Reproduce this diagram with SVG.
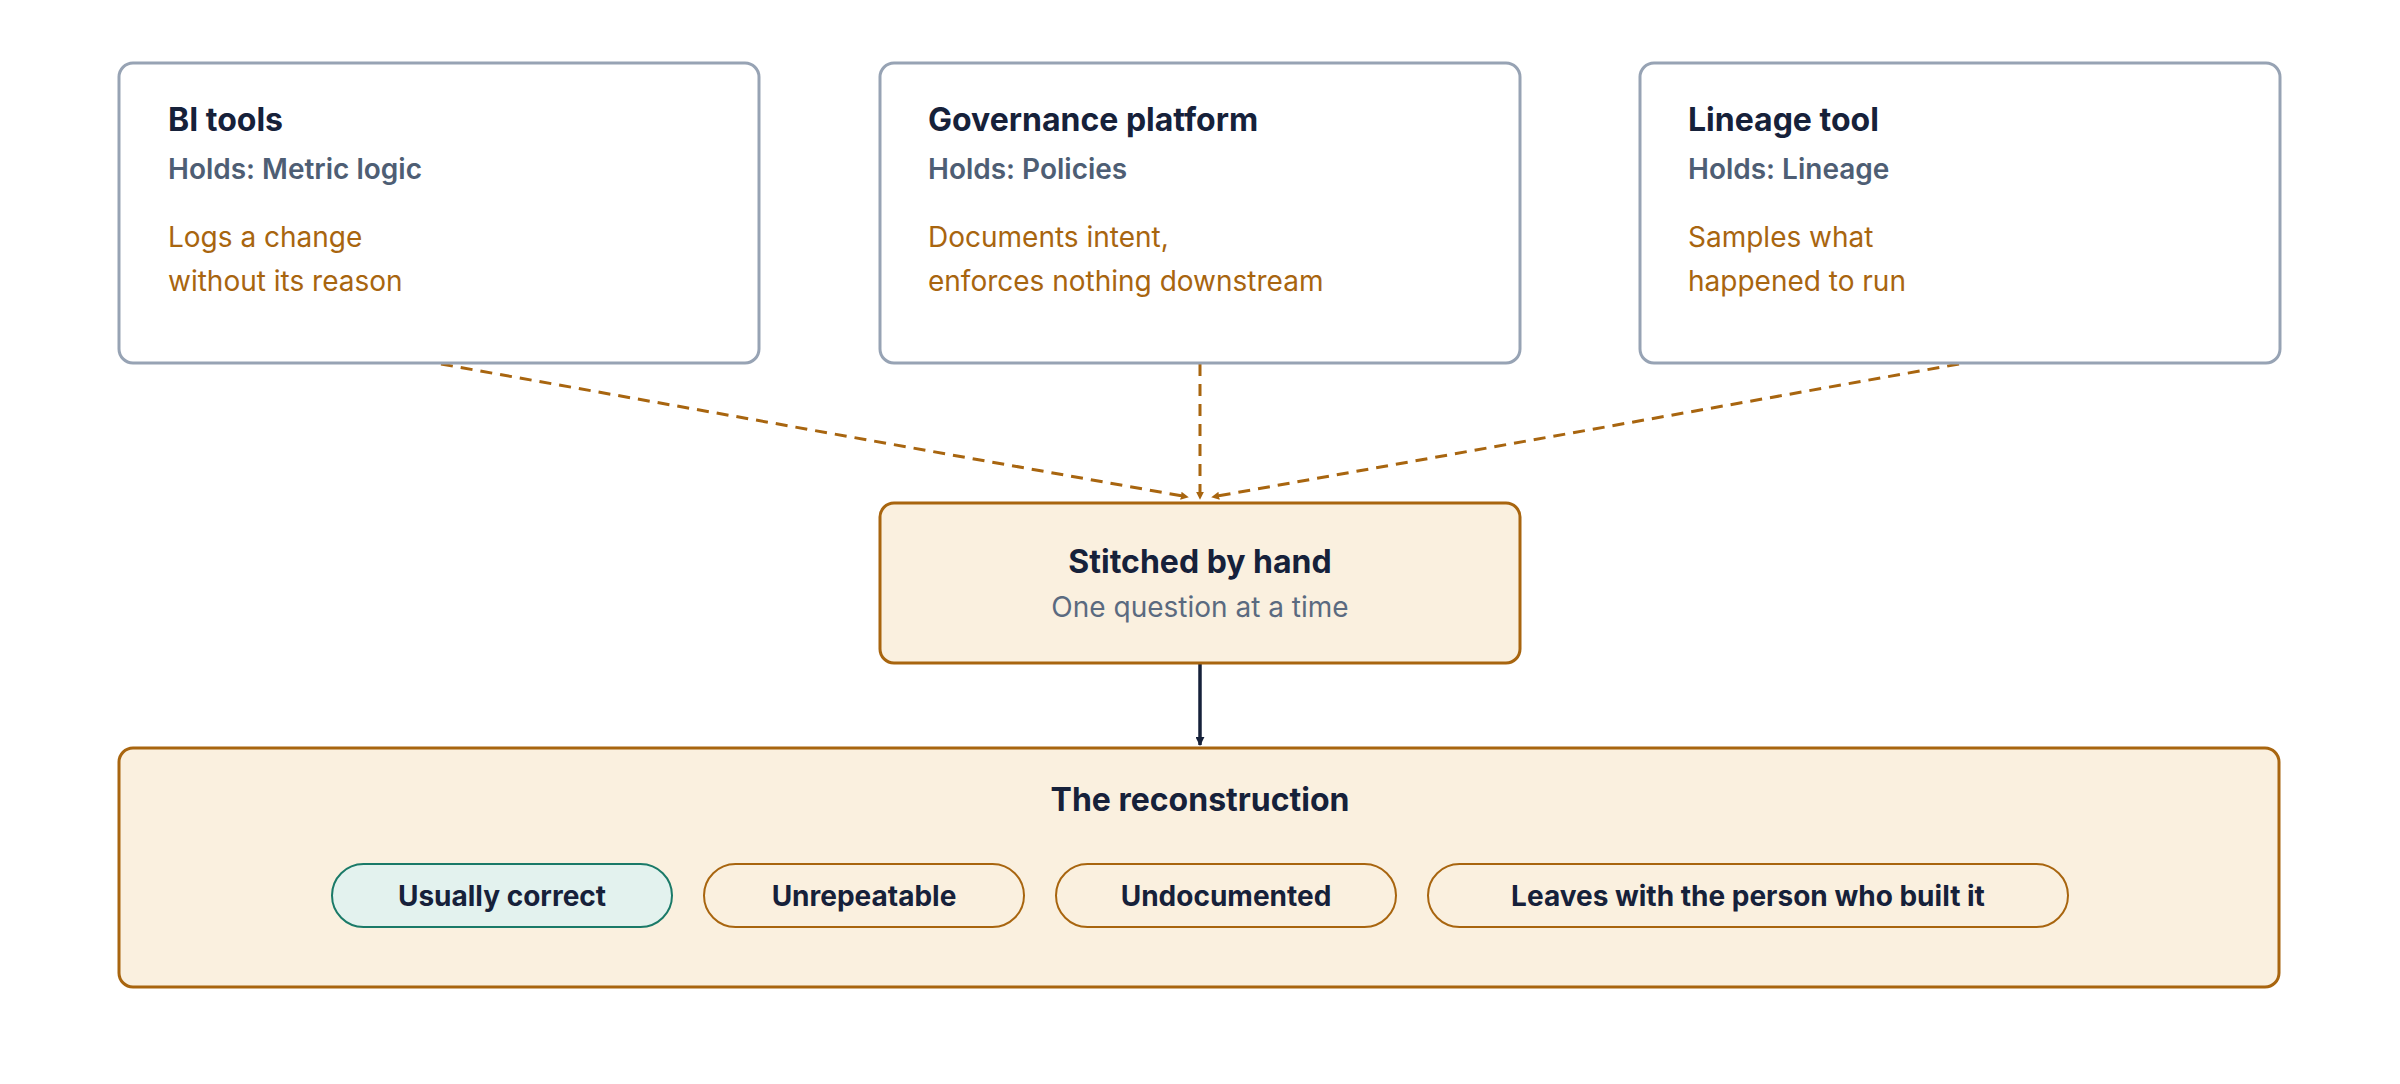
<svg xmlns="http://www.w3.org/2000/svg" width="2400" height="1084" viewBox="0 0 2400 1084">
<style>
text{font-family:Inter,"Noto Sans","Liberation Sans",sans-serif}
.src{fill:#fff;stroke:#97a3b4;stroke-width:3}
.warm{fill:#faf0df;stroke:#a8650f;stroke-width:3}
.t{font-size:32px;font-weight:700;fill:#16213a}
.h{font-size:28px;font-weight:600;fill:#4e5e74}
.d{font-size:28px;fill:#a8650f}
.s{font-size:28px;fill:#5a6a80}
.p{font-size:28px;font-weight:700;fill:#16213a}
.dash{stroke:#a8650f;stroke-width:3;stroke-dasharray:12 8;fill:none}
</style>
<defs>
<marker id="ab" viewBox="0 0 10 10" refX="9" refY="5" markerWidth="8" markerHeight="8" markerUnits="userSpaceOnUse" orient="auto"><path d="M0 0L10 5L0 10z" fill="#a8650f"/></marker>
<marker id="ad" viewBox="0 0 10 10" refX="9" refY="5" markerWidth="9" markerHeight="9" markerUnits="userSpaceOnUse" orient="auto"><path d="M0 0L10 5L0 10z" fill="#16213a"/></marker>
</defs>
<rect width="2400" height="1084" fill="#fff"/>
<g id="connectors">
<path class="dash" d="M441 364L1188 497" marker-end="url(#ab)" style="stroke-dasharray:12 8"/>
<path class="dash" d="M1200 364L1200 499" marker-end="url(#ab)"/>
<path class="dash" d="M1959 364L1212 497" marker-end="url(#ab)"/>
<path d="M1200 664L1200 745" stroke="#16213a" stroke-width="3.5" fill="none" marker-end="url(#ad)"/>
</g>
<g id="bi">
<rect class="src" x="119" y="63" width="640" height="300" rx="14"/>
<text class="t" x="168" y="131">BI tools</text>
<text class="h" x="168" y="179">Holds: Metric logic</text>
<text class="d" x="168" y="247">Logs a change</text>
<text class="d" x="168" y="291">without its reason</text>
</g>
<g id="gov">
<rect class="src" x="880" y="63" width="640" height="300" rx="14"/>
<text class="t" x="928" y="131">Governance platform</text>
<text class="h" x="928" y="179">Holds: Policies</text>
<text class="d" x="928" y="247">Documents intent,</text>
<text class="d" x="928" y="291">enforces nothing downstream</text>
</g>
<g id="lineage">
<rect class="src" x="1640" y="63" width="640" height="300" rx="14"/>
<text class="t" x="1688" y="131">Lineage tool</text>
<text class="h" x="1688" y="179">Holds: Lineage</text>
<text class="d" x="1688" y="247">Samples what</text>
<text class="d" x="1688" y="291">happened to run</text>
</g>
<g id="stitched">
<rect class="warm" x="880" y="503" width="640" height="160" rx="14"/>
<text class="t" x="1200" y="573" text-anchor="middle">Stitched by hand</text>
<text class="s" x="1200" y="617" text-anchor="middle">One question at a time</text>
</g>
<g id="reconstruction">
<rect class="warm" x="119" y="748" width="2160" height="239" rx="14"/>
<text class="t" x="1200" y="811" text-anchor="middle">The reconstruction</text>
<rect x="332" y="864" width="340" height="63" rx="31.5" fill="#e3f2ee" stroke="#1a7a68" stroke-width="2"/>
<text class="p" x="502" y="906" text-anchor="middle">Usually correct</text>
<rect x="704" y="864" width="320" height="63" rx="31.5" fill="#faf0df" stroke="#a8650f" stroke-width="2"/>
<text class="p" x="864" y="906" text-anchor="middle">Unrepeatable</text>
<rect x="1056" y="864" width="340" height="63" rx="31.5" fill="#faf0df" stroke="#a8650f" stroke-width="2"/>
<text class="p" x="1226" y="906" text-anchor="middle">Undocumented</text>
<rect x="1428" y="864" width="640" height="63" rx="31.5" fill="#faf0df" stroke="#a8650f" stroke-width="2"/>
<text class="p" x="1748" y="906" text-anchor="middle">Leaves with the person who built it</text>
</g>
</svg>
